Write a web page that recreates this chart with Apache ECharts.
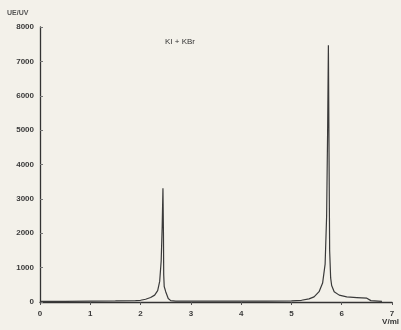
<!DOCTYPE html>
<html><head><meta charset="utf-8">
<script src="https://cdn.jsdelivr.net/npm/echarts@6/dist/echarts.min.js"></script>
<style>html,body{margin:0;padding:0;background:#f3f1ea;}#c{width:401px;height:330px;}</style>
</head><body><div id="c"></div>
<script>
var xValues = [0,0.5,1,1.5,1.9,2.0,2.1,2.2,2.28,2.34,2.38,2.41,2.43,2.445,2.455,2.46,2.47,2.5,2.55,2.6,2.7,3.0,3.5,4.0,4.5,5.0,5.2,5.35,5.45,5.55,5.62,5.67,5.7,5.72,5.735,5.745,5.76,5.78,5.8,5.85,5.95,6.1,6.3,6.5,6.58,6.8];
var yValues = [20,20,25,30,40,50,80,130,200,330,600,1200,2200,3310,2000,800,450,300,100,40,25,25,25,25,25,30,50,90,150,300,550,1100,2500,5000,7470,5000,1500,700,480,300,200,150,130,110,40,20];
var yTicks = [0,1000,2000,3000,4000,5000,6000,7000,8000];
var xTicks = [0,1,2,3,4,5,6,7];
var titleText = 'KI + KBr';
var yName = 'UE/UV';
var xName = 'V/ml';

var data = xValues.map(function(x,i){return [x,yValues[i]];});
var chart = echarts.init(document.getElementById('c'));
var txt = {color:'#3a3a3a', fontFamily:'Liberation Sans', fontWeight:'bold', fontSize:8};
chart.setOption({
  backgroundColor:'#f3f1ea',
  animation:false,
  grid:{left:40,right:9,top:27,bottom:28},
  graphic:[
    {type:'text', left:7, top:10, style:{text:yName, fill:'#555', font:'bold 7px Liberation Sans'}},
    {type:'text', left:165, top:38, style:{text:titleText, fill:'#333', font:'8px Liberation Sans'}},
    {type:'text', right:2, top:318, style:{text:xName, fill:'#333', font:'bold 8px Liberation Sans'}}
  ],
  xAxis:{type:'value', min:0, max:7, interval:1,
    axisLine:{lineStyle:{color:'#333',width:1.3}},
    axisTick:{show:true, length:3, lineStyle:{color:'#555'}},
    axisLabel:Object.assign({margin:8, formatter:function(v){return xTicks.indexOf(v)>=0?String(v):'';}},txt),
    splitLine:{show:false}},
  yAxis:{type:'value', min:0, max:8000, interval:1000,
    axisLine:{show:true, lineStyle:{color:'#333',width:1.3}},
    axisTick:{show:true, inside:true, length:3, lineStyle:{color:'#777'}},
    axisLabel:Object.assign({margin:6, formatter:function(v){return yTicks.indexOf(v)>=0?String(v):'';}},txt),
    splitLine:{show:false}},
  series:[{type:'line', data:data, showSymbol:false, smooth:false,
    lineStyle:{color:'#3a3a3a', width:1.2}}]
});
</script></body></html>
